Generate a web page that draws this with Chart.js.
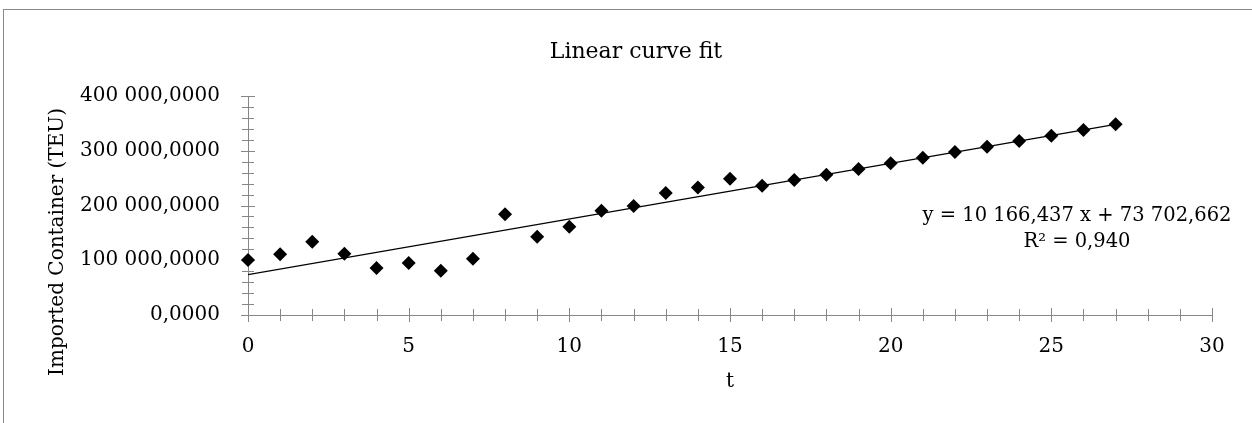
<!DOCTYPE html>
<html>
<head>
<meta charset="utf-8">
<title>Linear curve fit</title>
<script src="https://cdn.jsdelivr.net/npm/chart.js@4.4.1/dist/chart.umd.min.js"></script>
<style>
    body { margin: 0; background: #fff; overflow: hidden; }
    #frame { position: absolute; left: 3px; top: 9px; border-left: 1px solid #8a8a8a; border-top: 1px solid #8a8a8a; }
    #chart { display: block; }
</style>
</head>
<body>
<div id="frame"><canvas id="chart" width="1264" height="464"></canvas></div>
<script>
// t (period) and imported containers
const tValues = [0, 1, 2, 3, 4, 5, 6, 7, 8, 9, 10, 11, 12, 13, 14, 15, 16, 17, 18, 19, 20, 21, 22, 23, 24, 25, 26, 27];
const importedTEU = [100400, 110800, 133900, 112000, 85800, 95000, 80900, 102800, 183800, 143000,
    161300, 190500, 199000, 222800, 233100, 248900, 236100, 246500, 256200, 266600,
    277000, 287300, 297600, 307300, 317700, 327400, 337800, 348200];

// linear trendline end points (y = 10 166,437 x + 73 702,662)
const trendT = [0, 27];
const trendValues = [73702.662, 348196.461];

const chartTitle = 'Linear curve fit';
const xTitle = 't';
const yTitle = 'Imported Container (TEU)';
const equationText = 'y = 10 166,437 x + 73 702,662';
const r2Text = 'R² = 0,940';

const xTicks = { min: 0, max: 30, step: 5, minor: 1 };
const yTicks = { min: 0, max: 400000, step: 100000, minor: 20000 };

const fontFamily = "'DejaVu Serif', 'Liberation Serif', serif";
const axisGray = '#878787';

function fmtTEU(v) {
    const parts = Number(v).toFixed(4).split('.');
    return parts[0].replace(/\B(?=(\d{3})+(?!\d))/g, ' ') + ',' + parts[1];
}

// excel style cross tick marks + free text
const excelDecor = {
    id: 'excelDecor',
    beforeDatasetsDraw(chart) {
        const ctx = chart.ctx;
        const xs = chart.scales.x;
        const ys = chart.scales.y;
        const x0 = xs.getPixelForValue(0);
        const y0 = ys.getPixelForValue(0);
        ctx.save();
        ctx.strokeStyle = axisGray;
        ctx.lineWidth = 1;
        ctx.beginPath();
        for (let v = xTicks.min; v <= xTicks.max; v += xTicks.minor) {
            const px = Math.round(xs.getPixelForValue(v)) + 0.5;
            const len = v % xTicks.step === 0 ? 7 : 6;
            ctx.moveTo(px, y0 - len);
            ctx.lineTo(px, y0 + len);
        }
        for (let v = yTicks.min; v <= yTicks.max; v += yTicks.minor) {
            const py = Math.round(ys.getPixelForValue(v)) + 0.5;
            const len = v % yTicks.step === 0 ? 7 : 6;
            ctx.moveTo(x0 - len, py);
            ctx.lineTo(x0 + len, py);
        }
        ctx.stroke();
        ctx.restore();
    },
    afterDraw(chart) {
        const ctx = chart.ctx;
        const area = chart.chartArea;
        ctx.save();
        ctx.fillStyle = '#000';
        ctx.textAlign = 'center';
        ctx.textBaseline = 'middle';

        ctx.font = '22px ' + fontFamily;
        ctx.fillText(chartTitle, chart.width / 2, 42);

        ctx.font = '20px ' + fontFamily;
        ctx.fillText(xTitle, (area.left + area.right) / 2, 372);

        ctx.font = '19.5px ' + fontFamily;
        ctx.fillText(equationText, 1073, 206);
        ctx.fillText(r2Text, 1073, 232);

        ctx.font = '20px ' + fontFamily;
        ctx.translate(54, chart.height / 2);
        ctx.rotate(-Math.PI / 2);
        ctx.fillText(yTitle, 0, 0);
        ctx.restore();
    }
};

const ctx = document.getElementById('chart').getContext('2d');
const myChart = new Chart(ctx, {
    type: 'scatter',
    data: {
        datasets: [{
            label: 'Imported Container',
            data: tValues.map((t, i) => ({ x: t, y: importedTEU[i] })),
            pointStyle: 'rectRot',
            pointRadius: 7,
            pointHoverRadius: 7,
            backgroundColor: '#000',
            borderColor: '#000',
            borderWidth: 0,
            clip: false,
            order: 0
        },
        {
            type: 'line',
            label: 'Linear trend',
            data: trendT.map((t, i) => ({ x: t, y: trendValues[i] })),
            borderColor: '#000',
            borderWidth: 1.2,
            pointRadius: 0,
            fill: false,
            order: 1
        }]
    },
    options: {
        responsive: false,
        animation: false,
        events: [],
        layout: {
            padding: { left: 0, right: 56, top: 86, bottom: 59 }
        },
        plugins: {
            legend: { display: false },
            title: { display: false },
            tooltip: { enabled: false }
        },
        scales: {
            x: {
                type: 'linear',
                min: xTicks.min,
                max: xTicks.max,
                afterFit: function (scale) { scale.height = 100; },
                ticks: {
                    stepSize: xTicks.step,
                    autoSkip: false,
                    maxRotation: 0,
                    padding: 20,
                    color: '#000',
                    font: { size: 20, family: fontFamily }
                },
                grid: { display: true, drawOnChartArea: false, drawTicks: false },
                border: { display: true, color: axisGray, width: 1 }
            },
            y: {
                type: 'linear',
                min: yTicks.min,
                max: yTicks.max,
                afterFit: function (scale) { scale.width = 244; },
                ticks: {
                    stepSize: yTicks.step,
                    padding: 28,
                    color: '#000',
                    font: { size: 20, family: fontFamily },
                    callback: function (value) { return fmtTEU(value); }
                },
                grid: { display: true, drawOnChartArea: false, drawTicks: false },
                border: { display: true, color: axisGray, width: 1 }
            }
        }
    },
    plugins: [excelDecor]
});
</script>
</body>
</html>
